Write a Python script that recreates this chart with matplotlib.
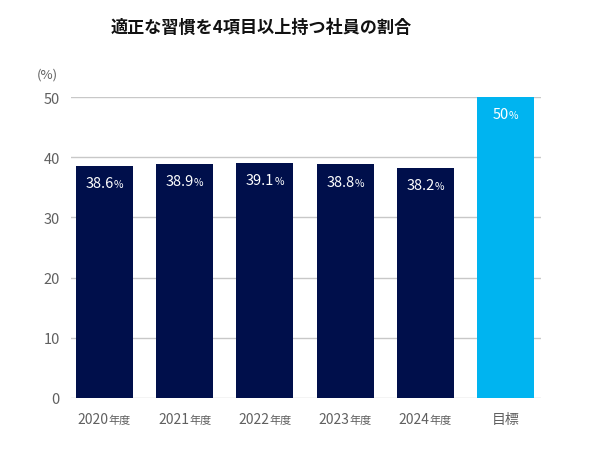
import matplotlib
matplotlib.use("Agg")
import matplotlib.pyplot as plt
from matplotlib.offsetbox import TextArea, HPacker, AnnotationBbox

plt.rcParams['font.family'] = ['Noto Sans CJK JP', 'DejaVu Sans']

categories = ["2020", "2021", "2022", "2023", "2024", "目標"]
suffixes = ["年度", "年度", "年度", "年度", "年度", ""]
values = [38.6, 38.9, 39.1, 38.8, 38.2, 50]
value_labels = ["38.6", "38.9", "39.1", "38.8", "38.2", "50"]
colors = ["#000F4B", "#000F4B", "#000F4B", "#000F4B", "#000F4B", "#00B4F0"]
yticks = [0, 10, 20, 30, 40, 50]

fig = plt.figure(figsize=(5.9, 4.6), dpi=100)
ax = fig.add_axes([71/590, 1-399/460, 470/590, 301/460])

x = list(range(len(categories)))
ax.bar(x, values, width=0.71, color=colors, zorder=3)
ax.set_xlim(-0.418, 5.443)
ax.set_ylim(0, 50)
ax.set_yticks(yticks)
ax.yaxis.grid(True, color="#c8c8c8", linewidth=1, zorder=0)
ax.set_axisbelow(True)
for s in ax.spines.values():
    s.set_visible(False)
ax.tick_params(axis='y', length=0, labelsize=10.5, labelcolor="#606060", pad=8)
ax.tick_params(axis='x', length=0, labelbottom=False)
ax.set_xticks(x)

# x labels
for i, (c, suf) in enumerate(zip(categories, suffixes)):
    parts = [TextArea(c, textprops=dict(color="#606060", fontsize=10))]
    if suf:
        parts.append(TextArea(suf, textprops=dict(color="#606060", fontsize=8)))
    box = HPacker(children=parts, align="baseline", pad=0, sep=0)
    ab = AnnotationBbox(box, (i, 0), xycoords=('data', 'axes fraction'),
                        xybox=(0, -15), boxcoords="offset points",
                        frameon=False, box_alignment=(0.5, 0.5))
    ax.add_artist(ab)

# value labels
for i, (v, lab) in enumerate(zip(values, value_labels)):
    parts = [TextArea(lab, textprops=dict(color="white", fontsize=10.5)),
             TextArea("%", textprops=dict(color="white", fontsize=7.5))]
    box = HPacker(children=parts, align="baseline", pad=0, sep=0)
    ab = AnnotationBbox(box, (i, v), xycoords='data',
                        xybox=(0, -12.5), boxcoords="offset points",
                        frameon=False, box_alignment=(0.5, 0.5), zorder=5)
    ax.add_artist(ab)

fig.text(47/590, 1-75/460, "(%)", ha='center', va='center', fontsize=9.5, color="#606060")
fig.text(261/590, 1-28/460, "適正な習慣を4項目以上持つ社員の割合", ha='center', va='center',
         fontsize=12.3, fontweight='bold', color="#111111")

fig.savefig("out.png", dpi=100)
